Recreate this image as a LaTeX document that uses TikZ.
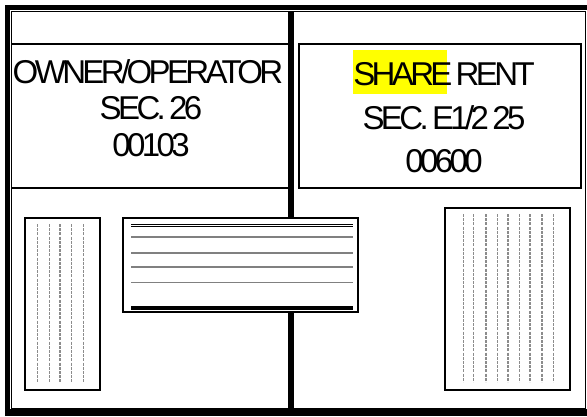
\documentclass[tikz,border=0pt]{standalone}
\usepackage{fontspec}
\setmainfont{Liberation Sans}
\newfontfamily\platfont[LetterSpace=-11,WordSpace=0.6]{Liberation Sans}
\definecolor{hiliteyellow}{RGB}{255,255,0}

\begin{document}
\begin{tikzpicture}[x=1pt,y=-1pt,
  thinrule/.style={line width=1.2pt},
  boxrule/.style={line width=2pt},
  greyrule/.style={line width=1.6pt,color=black!50},
  dotrule/.style={line width=1.5pt,color=black!45,dash pattern=on 3pt off 1.2pt},
  plat/.style={font=\platfont\fontsize{33}{39}\selectfont,inner sep=0pt,anchor=base}]
\useasboundingbox (0,0) rectangle (587,416);
% outer frame
\fill (5,5) rectangle (587,10);
\fill (5,5) rectangle (10,416);
\fill (5,409) rectangle (587,416);
\draw[thinrule] (11.6,11.6) rectangle (585.8,409);
% centre divider
\fill (288,11) rectangle (294,409);
% top left cell
\draw[boxrule] (12,43.5) -- (288,43.5);
\draw[boxrule] (12,188) -- (288,188);
% top right box
\draw[boxrule] (299,43.5) rectangle (581,188);
\fill[hiliteyellow] (353,50) rectangle (447,94);
% labels
\node[plat] (ownop) at (148,83) {OWNER/OPERATOR};
\node[plat] (ownsec) at (151,119) {SEC. 26};
\node[plat] (ownno) at (151,156) {00103};
\node[plat] (shrent) at (444,85) {SHARE RENT};
\node[plat] (shsec) at (444,129) {SEC. E1/2 25};
\node[plat] (shno) at (444,172) {00600};
% left field
\draw[boxrule] (24.5,217.5) rectangle (99.5,390);
\draw[dotrule] (37.7,224) -- (37.7,383);
\draw[dotrule] (49.7,224) -- (49.7,383);
\draw[dotrule] (60.0,224) -- (60.0,383);
\draw[dotrule] (71.7,224) -- (71.7,383);
\draw[dotrule] (83.7,224) -- (83.7,383);
% right field
\draw[boxrule] (444.7,207.5) rectangle (569.7,390);
\draw[dotrule] (463.7,214) -- (463.7,382);
\draw[dotrule] (473.7,214) -- (473.7,382);
\draw[dotrule] (486.0,214) -- (486.0,382);
\draw[dotrule] (497.7,214) -- (497.7,382);
\draw[dotrule] (508.0,214) -- (508.0,382);
\draw[dotrule] (519.7,214) -- (519.7,382);
\draw[dotrule] (530.0,214) -- (530.0,382);
\draw[dotrule] (542.0,214) -- (542.0,382);
\draw[dotrule] (553.7,214) -- (553.7,382);
% middle panel
\draw[boxrule,fill=white] (122.5,217.5) rectangle (358,311.5);
\draw[line width=1pt] (131,224.5) -- (353,224.5);
\draw[line width=1pt] (131,226.8) -- (353,226.8);
\draw[greyrule] (131,236.7) -- (353,236.7);
\draw[greyrule] (131,252.7) -- (353,252.7);
\draw[greyrule] (131,266.7) -- (353,266.7);
\draw[greyrule] (131,282.5) -- (353,282.5);
\fill (131,306) rectangle (353,309.5);
\end{tikzpicture}
\end{document}
